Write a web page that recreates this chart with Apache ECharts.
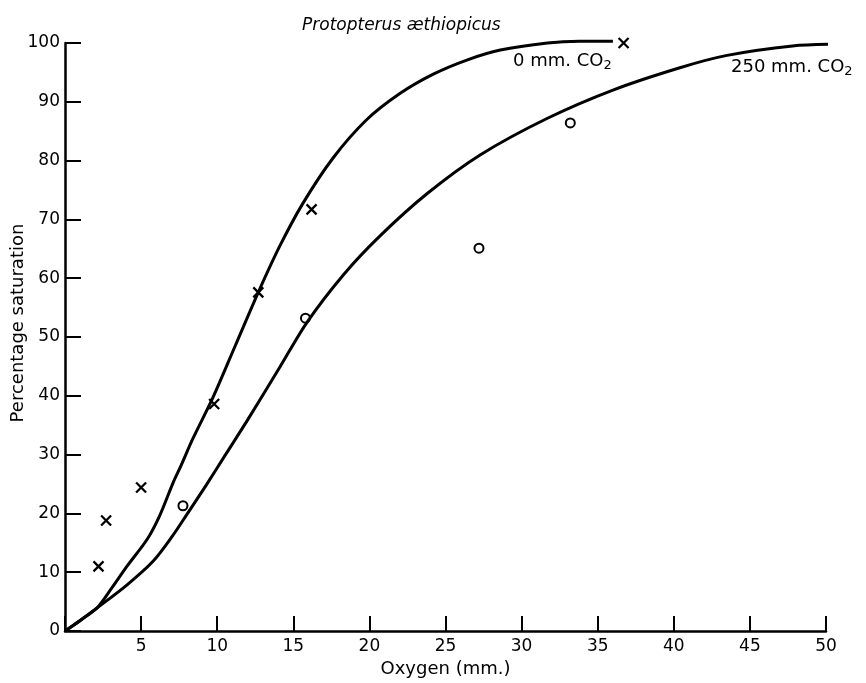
<!DOCTYPE html>
<html>
<head>
<meta charset="utf-8">
<script src="https://cdn.jsdelivr.net/npm/echarts@6/dist/echarts.min.js"></script>
<style>html,body{margin:0;padding:0;background:#fff}#c{width:866px;height:683px}</style>
</head>
<body>
<div id="c"></div>
<script>
// Curve for 0 mm CO2
const curve0X = [0, 1.0, 2.1, 3.1, 4.1, 5.4, 6.2, 7.1, 7.6, 8.4, 9.7, 11.2, 12.7, 14.1, 15.6, 17.6, 19.8, 22.0, 24.2, 26.4, 28.6, 31.7, 33.8, 36.0];
const curve0Y = [0, 1.8, 3.9, 7.4, 11.1, 15.6, 19.5, 25.2, 28.0, 32.7, 39.6, 48.6, 57.6, 65.4, 72.6, 80.4, 86.9, 91.4, 94.7, 97.1, 98.8, 100.0, 100.3, 100.3];
// Curve for 250 mm CO2
const curve250X = [0, 1.0, 2.1, 4.1, 5.8, 7.1, 8.0, 9.3, 10.6, 12.0, 14.1, 15.9, 18.3, 20.7, 23.8, 27.3, 31.7, 36.0, 40.4, 43.5, 47.8, 50.6];
const curve250Y = [0, 1.8, 3.9, 7.9, 11.9, 16.3, 19.8, 24.9, 30.2, 35.9, 44.8, 52.5, 60.6, 67.2, 74.4, 81.0, 87.2, 92.0, 95.8, 97.9, 99.5, 99.8];
// Observed points, 0 mm CO2 (crosses)
const cross0X = [2.2, 2.7, 5.0, 9.8, 12.7, 16.2, 36.7];
const cross0Y = [11.0, 18.8, 24.4, 38.6, 57.6, 71.7, 100.0];
// Observed points, 250 mm CO2 (circles)
const circ250X = [7.75, 15.8, 27.2, 33.2];
const circ250Y = [21.3, 53.2, 65.1, 86.4];
// Axis ticks
const xTicks = [0, 5, 10, 15, 20, 25, 30, 35, 40, 45, 50];
const yTicks = [0, 10, 20, 30, 40, 50, 60, 70, 80, 90, 100];

const zip = (a, b) => a.map((v, i) => [v, b[i]]);
const FONT = '"DejaVu Sans"';
const chart = echarts.init(document.getElementById('c'), null, {renderer: 'canvas'});
const crossPath = 'path://M0,0L10,10M10,0L0,10';

chart.setOption({
  backgroundColor: '#fff',
  animation: false,
  grid: {left: 65, right: 40, top: 43, bottom: 50},
  xAxis: {
    type: 'value', min: xTicks[0], max: xTicks[xTicks.length - 1], interval: 5,
    name: 'Oxygen (mm.)', nameLocation: 'middle', nameGap: 29,
    nameTextStyle: {fontFamily: FONT, fontSize: 18, color: '#000'},
    axisLine: {lineStyle: {color: '#000', width: 2.5}},
    axisTick: {inside: true, length: 15, lineStyle: {color: '#000', width: 2}},
    axisLabel: {fontFamily: FONT, fontSize: 17, color: '#000', margin: 7,
      formatter: v => (v === 0 ? '' : String(v))},
    splitLine: {show: false}
  },
  yAxis: {
    type: 'value', min: yTicks[0], max: yTicks[yTicks.length - 1], interval: 10,
    axisLine: {lineStyle: {color: '#000', width: 2.5}},
    axisTick: {inside: true, length: 16, lineStyle: {color: '#000', width: 2}},
    axisLabel: {fontFamily: FONT, fontSize: 17, color: '#000', margin: 5},
    splitLine: {show: false}
  },
  title: {
    text: 'Protopterus æthiopicus', left: 297, top: 12,
    textStyle: {fontFamily: FONT, fontStyle: 'italic', fontWeight: 'normal', fontSize: 17, color: '#000'}
  },
  series: [
    {type: 'line', data: zip(curve0X, curve0Y), smooth: 0.3, showSymbol: false, clip: false,
      lineStyle: {color: '#000', width: 3}},
    {type: 'line', data: zip(curve250X, curve250Y), smooth: 0.3, showSymbol: false, clip: false,
      lineStyle: {color: '#000', width: 3}},
    {type: 'scatter', data: zip(cross0X, cross0Y), symbol: crossPath, symbolSize: 10, clip: false,
      itemStyle: {color: 'rgba(0,0,0,0)', borderColor: '#000', borderWidth: 2.3, opacity: 1}},
    {type: 'scatter', data: zip(circ250X, circ250Y), symbol: 'emptyCircle', symbolSize: 9, clip: false,
      itemStyle: {color: '#000', borderColor: '#000', borderWidth: 2.4, opacity: 1}}
  ],
  graphic: [
    {type: 'text', left: 513, top: 52, style: {
      text: '{a|0 mm. CO}{s|2}', fill: '#000',
      rich: {a: {fontFamily: FONT, fontSize: 18, fill: '#000'}, s: {fontFamily: FONT, fontSize: 13, fill: '#000', padding: [9, 0, 0, 0]}}
    }},
    {type: 'text', left: 731, top: 58, style: {
      text: '{a|250 mm. CO}{s|2}', fill: '#000',
      rich: {a: {fontFamily: FONT, fontSize: 18, fill: '#000'}, s: {fontFamily: FONT, fontSize: 13, fill: '#000', padding: [9, 0, 0, 0]}}
    }},
    {type: 'text', x: 18, y: 323, rotation: Math.PI / 2, style: {
      text: 'Percentage saturation', fontFamily: FONT, fontSize: 18, fill: '#000', align: 'center', verticalAlign: 'middle'
    }}
  ]
});
</script>
</body>
</html>
